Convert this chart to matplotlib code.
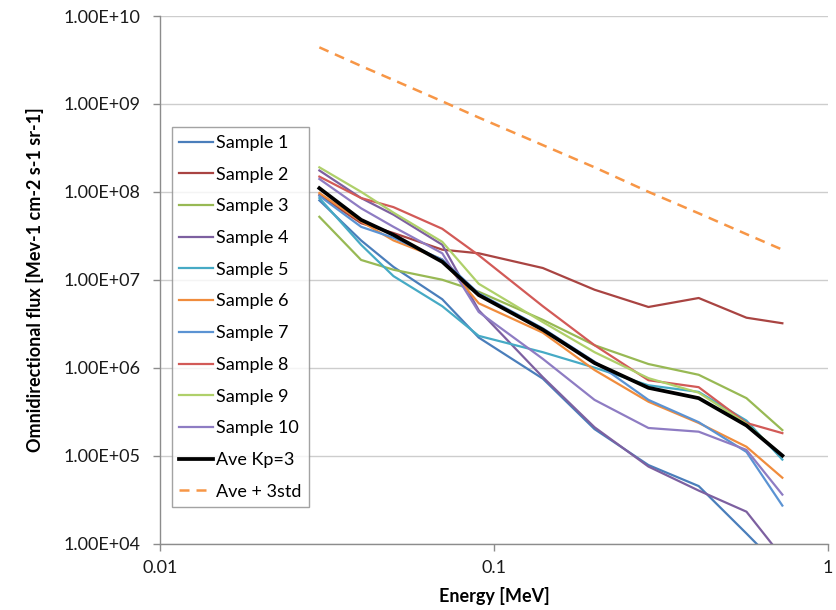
import numpy as np
import matplotlib
matplotlib.use("Agg")
import matplotlib.pyplot as plt
from matplotlib.ticker import FuncFormatter, FixedLocator, NullLocator

plt.rcParams['font.family'] = ['Lato', 'DejaVu Sans']

# energy channels [MeV]
energy = [0.03, 0.04, 0.05, 0.07, 0.09, 0.14, 0.2, 0.29, 0.41, 0.57, 0.73]

# omnidirectional flux per sample [MeV-1 cm-2 s-1 sr-1]
sample_1 = [8.0e7, 2.8e7, 1.4e7, 6.0e6, 2.2e6, 7.5e5, 2.0e5, 7.8e4, 4.5e4, 1.3e4, 5.0e3]
sample_2 = [9.2e7, 4.4e7, 3.4e7, 2.2e7, 2.0e7, 1.36e7, 7.7e6, 4.9e6, 6.2e6, 3.7e6, 3.2e6]
sample_3 = [5.2e7, 1.68e7, 1.3e7, 1.0e7, 7.3e6, 3.5e6, 1.8e6, 1.1e6, 8.3e5, 4.5e5, 1.95e5]
sample_4 = [1.75e8, 8.5e7, 5.5e7, 2.5e7, 4.5e6, 7.8e5, 2.1e5, 7.5e4, 4.0e4, 2.3e4, 7.0e3]
sample_5 = [8.5e7, 2.5e7, 1.1e7, 5.0e6, 2.3e6, 1.5e6, 1.0e6, 6.3e5, 5.3e5, 2.5e5, 9.0e4]
sample_6 = [9.7e7, 4.6e7, 2.8e7, 1.7e7, 5.4e6, 2.5e6, 9.4e5, 4.1e5, 2.35e5, 1.26e5, 5.6e4]
sample_7 = [9.0e7, 4.0e7, 3.0e7, 1.7e7, 7.0e6, 2.8e6, 1.17e6, 4.3e5, 2.4e5, 1.1e5, 2.7e4]
sample_8 = [1.49e8, 8.5e7, 6.7e7, 3.8e7, 1.9e7, 5.0e6, 1.8e6, 7.2e5, 6.0e5, 2.35e5, 1.8e5]
sample_9 = [1.9e8, 1.0e8, 5.8e7, 2.7e7, 9.0e6, 3.3e6, 1.5e6, 7.6e5, 5.2e5, 2.3e5, 1.0e5]
sample_10 = [1.4e8, 6.5e7, 4.0e7, 2.0e7, 4.3e6, 1.26e6, 4.3e5, 2.06e5, 1.87e5, 1.16e5, 3.6e4]

ave_kp3 = [1.1e8, 4.8e7, 3.24e7, 1.6e7, 6.7e6, 2.7e6, 1.13e6, 5.9e5, 4.5e5, 2.2e5, 1.0e5]
ave_3std = [4.4e9, 2.7e9, 1.87e9, 1.07e9, 7.0e8, 3.4e8, 1.9e8, 1.0e8, 5.7e7, 3.3e7, 2.2e7]

x_ticks = [0.01, 0.1, 1]

samples = [sample_1, sample_2, sample_3, sample_4, sample_5,
           sample_6, sample_7, sample_8, sample_9, sample_10]
labels = ['Sample %d' % (i + 1) for i in range(len(samples))]
colors = ['#4A7EBB', '#A94442', '#98B954', '#7D60A0', '#46AAC5',
          '#F08C3C', '#5B93D3', '#D25A57', '#AFD06A', '#8E7CC3']

fs = 13

fig = plt.figure(figsize=(8.37, 6.10), dpi=100)
ax = fig.add_axes([160 / 837, 1 - 543.5 / 610, 668 / 837, 527.5 / 610])

for vals, lab, col in zip(samples, labels, colors):
    ax.plot(energy, vals, color=col, lw=1.6, label=lab)
ax.plot(energy, ave_kp3, color='black', lw=2.7, label='Ave Kp=3')
ax.plot(energy, ave_3std, color='#F79646', lw=1.8, dashes=(4, 2.8), label='Ave + 3std')

ax.set_xscale('log')
ax.set_yscale('log')
ax.set_xlim(0.01, 1)
ax.set_ylim(1e4, 1e10)

ax.xaxis.set_major_locator(FixedLocator(x_ticks))
ax.yaxis.set_major_locator(FixedLocator([10.0 ** k for k in range(4, 11)]))
ax.yaxis.set_minor_locator(NullLocator())
ax.xaxis.set_minor_locator(NullLocator())
ax.yaxis.set_major_formatter(FuncFormatter(lambda v, p: '%.2E' % v))
ax.xaxis.set_major_formatter(FuncFormatter(lambda v, p: ('%g' % v)))

ax.grid(axis='y', color='#CDCDCD', lw=1)
ax.set_axisbelow(True)
for s in ['top', 'right']:
    ax.spines[s].set_visible(False)
for s in ['left', 'bottom']:
    ax.spines[s].set_color('#8C8C8C')
    ax.spines[s].set_linewidth(1)
ax.tick_params(axis='both', which='major', direction='out', length=5,
               width=1, color='#8C8C8C', labelsize=fs, labelcolor='#1A1A1A')
ax.tick_params(axis='y', pad=9)
ax.tick_params(axis='x', pad=7)

ax.set_xlabel('Energy [MeV]', fontsize=fs, fontweight='bold', labelpad=8)
ax.set_ylabel('Omnidirectional flux [Mev-1 cm-2 s-1 sr-1]', fontsize=fs,
              fontweight='bold', labelpad=14)

leg = ax.legend(loc='upper left', bbox_to_anchor=(0.0175, 0.789), fontsize=fs,
                frameon=True, fancybox=False, handlelength=1.85, handletextpad=0.18,
                labelspacing=0.87, borderpad=0.42, borderaxespad=0)
leg.get_frame().set_edgecolor('#8C8C8C')
leg.get_frame().set_linewidth(1)

fig.savefig('out.png', dpi=100)
